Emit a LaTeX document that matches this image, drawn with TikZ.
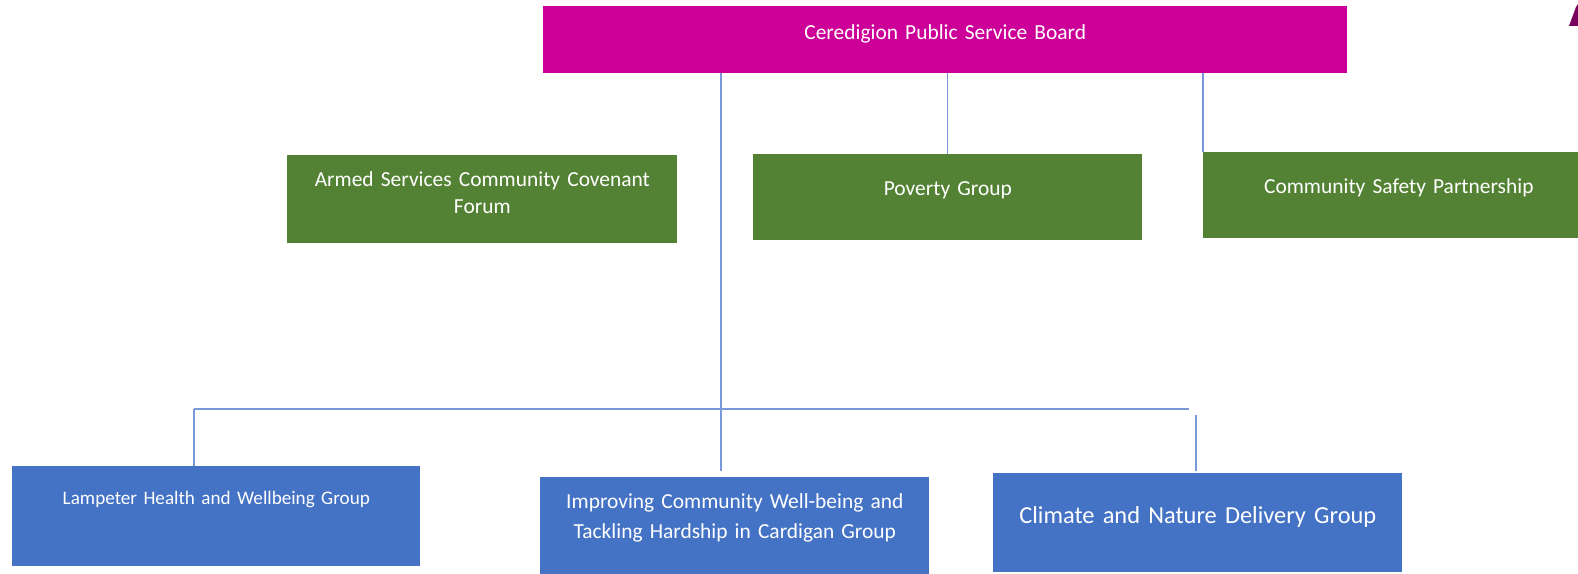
\documentclass[tikz,border=0pt]{standalone}
\usepackage{fontspec}
\setmainfont{Carlito}
\definecolor{psbpink}{RGB}{204,0,153}
\definecolor{subgreen}{RGB}{84,130,53}
\definecolor{taskblue}{RGB}{68,114,196}
\definecolor{linkblue}{RGB}{120,152,218}
\definecolor{cornerpurple}{RGB}{122,0,96}

\begin{document}
\begin{tikzpicture}[x=0.02cm, y=-0.02cm,
box/.style={anchor=north west, inner sep=0, align=center, text=white, font=\fontsize{12.2}{15.3}\selectfont},
board/.style={box, fill=psbpink},
group/.style={box, fill=subgreen},
task/.style={box, fill=taskblue},
link/.style={linkblue, line width=.6pt},
]

\useasboundingbox (0,0) rectangle (1578,574); %%%%%%% SIZE OF THE PAGE
\clip (0,0) rectangle (1578,574);

%%%%%%%%%%%%%%%%%%%%%%%% BOARD %%%%%%%%%%%%%%%%%%%%%%%%%%%
\node[board, text width=16.08cm, text height=.66cm, text depth=.67cm] (psb) at (543,6) {Ceredigion Public Service Board};

%%%%%%%%%%%%%%%%%%%%%%%% GREEN GROUPS %%%%%%%%%%%%%%%%%%%%%%%%%%%
\node[group, text width=7.8cm, text height=.62cm, text depth=1.14cm] (armed) at (287,155) {Armed Services Community Covenant\\Forum};
\node[group, text width=7.78cm, text height=.82cm, text depth=.9cm] (pov) at (753,154) {Poverty Group};
\node[group, text width=7.82cm, text height=.82cm, text depth=.9cm] (csp) at (1203,152) {Community Safety Partnership};

%%%%%%%%%%%%%%%%%%%%%%%% BLUE GROUPS %%%%%%%%%%%%%%%%%%%%%%%%%%%
\node[task, text width=8.16cm, text height=.76cm, text depth=1.24cm, font=\fontsize{10.9}{13}\selectfont] (lamp) at (12,466) {Lampeter Health and Wellbeing Group};
\node[task, text width=7.78cm, text height=.62cm, text depth=1.32cm, font=\fontsize{12.2}{17}\selectfont] (imp) at (540,477) {Improving Community Well-being and\\Tackling Hardship in Cardigan Group};
\node[task, text width=8.18cm, text height=1cm, text depth=.98cm, font=\fontsize{13.9}{17}\selectfont] (clim) at (993,473) {Climate and Nature Delivery Group};

%%%%%%%%%%
%% LINKS %%
%%%%%%%%%%
\coordinate (busL) at (194,409);
\coordinate (busR) at (1189,409);
\coordinate (trunk) at (721,409);
\coordinate (climTop) at (1196,415);

\draw[link, shorten >=.12cm] (psb.south -| trunk) -- (trunk) -- (imp.north -| trunk);
\draw[link] (psb.south -| pov.north) -- (pov.north);
\draw[link] (psb.south -| csp.north west) -- (csp.north west);
\draw[link] (busL) -- (busR);
\draw[link] (busL) -- (busL |- lamp.north);
\draw[link, shorten >=.04cm] (climTop) -- (climTop |- clim.north);

\fill[cornerpurple] (1569,26) -- (1576,7) -- (1578,4) -- (1578,26) -- cycle; % corner shard
\end{tikzpicture}
\end{document}
